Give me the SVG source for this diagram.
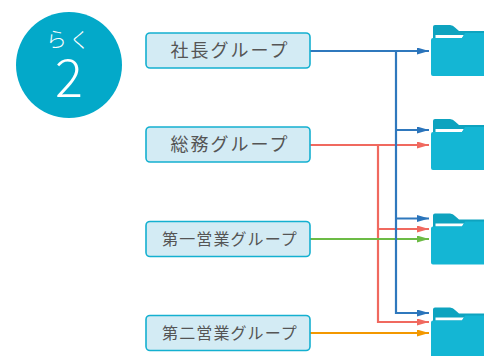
<svg xmlns="http://www.w3.org/2000/svg" width="484" height="356" viewBox="0 0 484 356">
<style>
.n{fill:#d3ebf4;stroke:#14b0d0;stroke-width:1.6}
.t{font-family:"Noto Sans CJK JP","Noto Sans",sans-serif;fill:#555;text-anchor:middle}
.c{fill:none;stroke-width:2.2}
.b{stroke:#2f78bd}.r{stroke:#f0695f}.g{stroke:#6cbb45}.o{stroke:#f39800}
.back{fill:#0ea3bf}.front{fill:#14b6d4}.paper{fill:#fff}
</style>
<defs>
<marker id="ab" markerUnits="userSpaceOnUse" markerWidth="12" markerHeight="8" refX="12" refY="3.500" orient="auto"><path d="M0 0L12 3.500L0 7z" fill="#2a74bb"/></marker>
<marker id="ar" markerUnits="userSpaceOnUse" markerWidth="12" markerHeight="8" refX="12" refY="3.500" orient="auto"><path d="M0 0L12 3.500L0 7z" fill="#f0695f"/></marker>
<marker id="ag" markerUnits="userSpaceOnUse" markerWidth="12" markerHeight="8" refX="12" refY="3.500" orient="auto"><path d="M0 0L12 3.500L0 7z" fill="#6cbb45"/></marker>
<marker id="ao" markerUnits="userSpaceOnUse" markerWidth="12" markerHeight="8" refX="12" refY="3.500" orient="auto"><path d="M0 0L12 3.500L0 7z" fill="#f39800"/></marker>
<g id="folder">
<path class="back" d="M433 33V27Q433 25 435 25H450Q453 25 455 27.500L459 31H484V40H433z"/>
<path class="paper" d="M435.500 35H464L462 38H435.500z"/>
<path class="front" d="M433 38H462L465 33H484V76H433Q431 76 431 74V40Q431 38 433 38z"/>
</g>
</defs>
<g id="badge">
<circle cx="69" cy="65" r="53" fill="#03a9c9"/>
<text x="69" y="47" font-size="21" letter-spacing="2" fill="#fff" font-weight="300" text-anchor="middle" font-family="Noto Sans CJK JP,sans-serif">らく</text>
<text x="69" y="97" font-size="52" fill="#fff" font-weight="300" text-anchor="middle" font-family="Noto Sans CJK JP,sans-serif">2</text>
</g>
<g id="connectors">
<path class="c r" d="M378 145V322H429" marker-end="url(#ar)"/>
<path class="c r" d="M378 229H429" marker-end="url(#ar)"/>
<path class="c r" d="M310 145H429" marker-end="url(#ar)"/>
<path class="c g" d="M310 239H429" marker-end="url(#ag)"/>
<path class="c o" d="M310 333H429" marker-end="url(#ao)"/>
<path class="c b" d="M310 51H429" marker-end="url(#ab)"/>
<path class="c b" d="M396 51V313H429" marker-end="url(#ab)"/>
<path class="c b" d="M396 130H429" marker-end="url(#ab)"/>
<path class="c b" d="M396 218.500H429" marker-end="url(#ab)"/>
</g>
<g id="n1"><rect class="n" x="146" y="33" width="164" height="35" rx="4"/><text class="t" x="230" y="57" font-size="18" letter-spacing="2">社長グループ</text></g>
<g id="n2"><rect class="n" x="146" y="127" width="164" height="35" rx="4"/><text class="t" x="230" y="151" font-size="18" letter-spacing="2">総務グループ</text></g>
<g id="n3"><rect class="n" x="146" y="221.500" width="164" height="35" rx="4"/><text class="t" x="230" y="244.500" font-size="16" letter-spacing="1.100">第一営業グループ</text></g>
<g id="n4"><rect class="n" x="146" y="315.500" width="164" height="35" rx="4"/><text class="t" x="230" y="338.500" font-size="16" letter-spacing="1.100">第二営業グループ</text></g>
<g id="f1"><use href="#folder"/></g>
<g id="f2"><use href="#folder" y="94"/></g>
<g id="f3"><use href="#folder" y="188.500"/></g>
<g id="f4"><use href="#folder" y="282.500"/></g>
</svg>
